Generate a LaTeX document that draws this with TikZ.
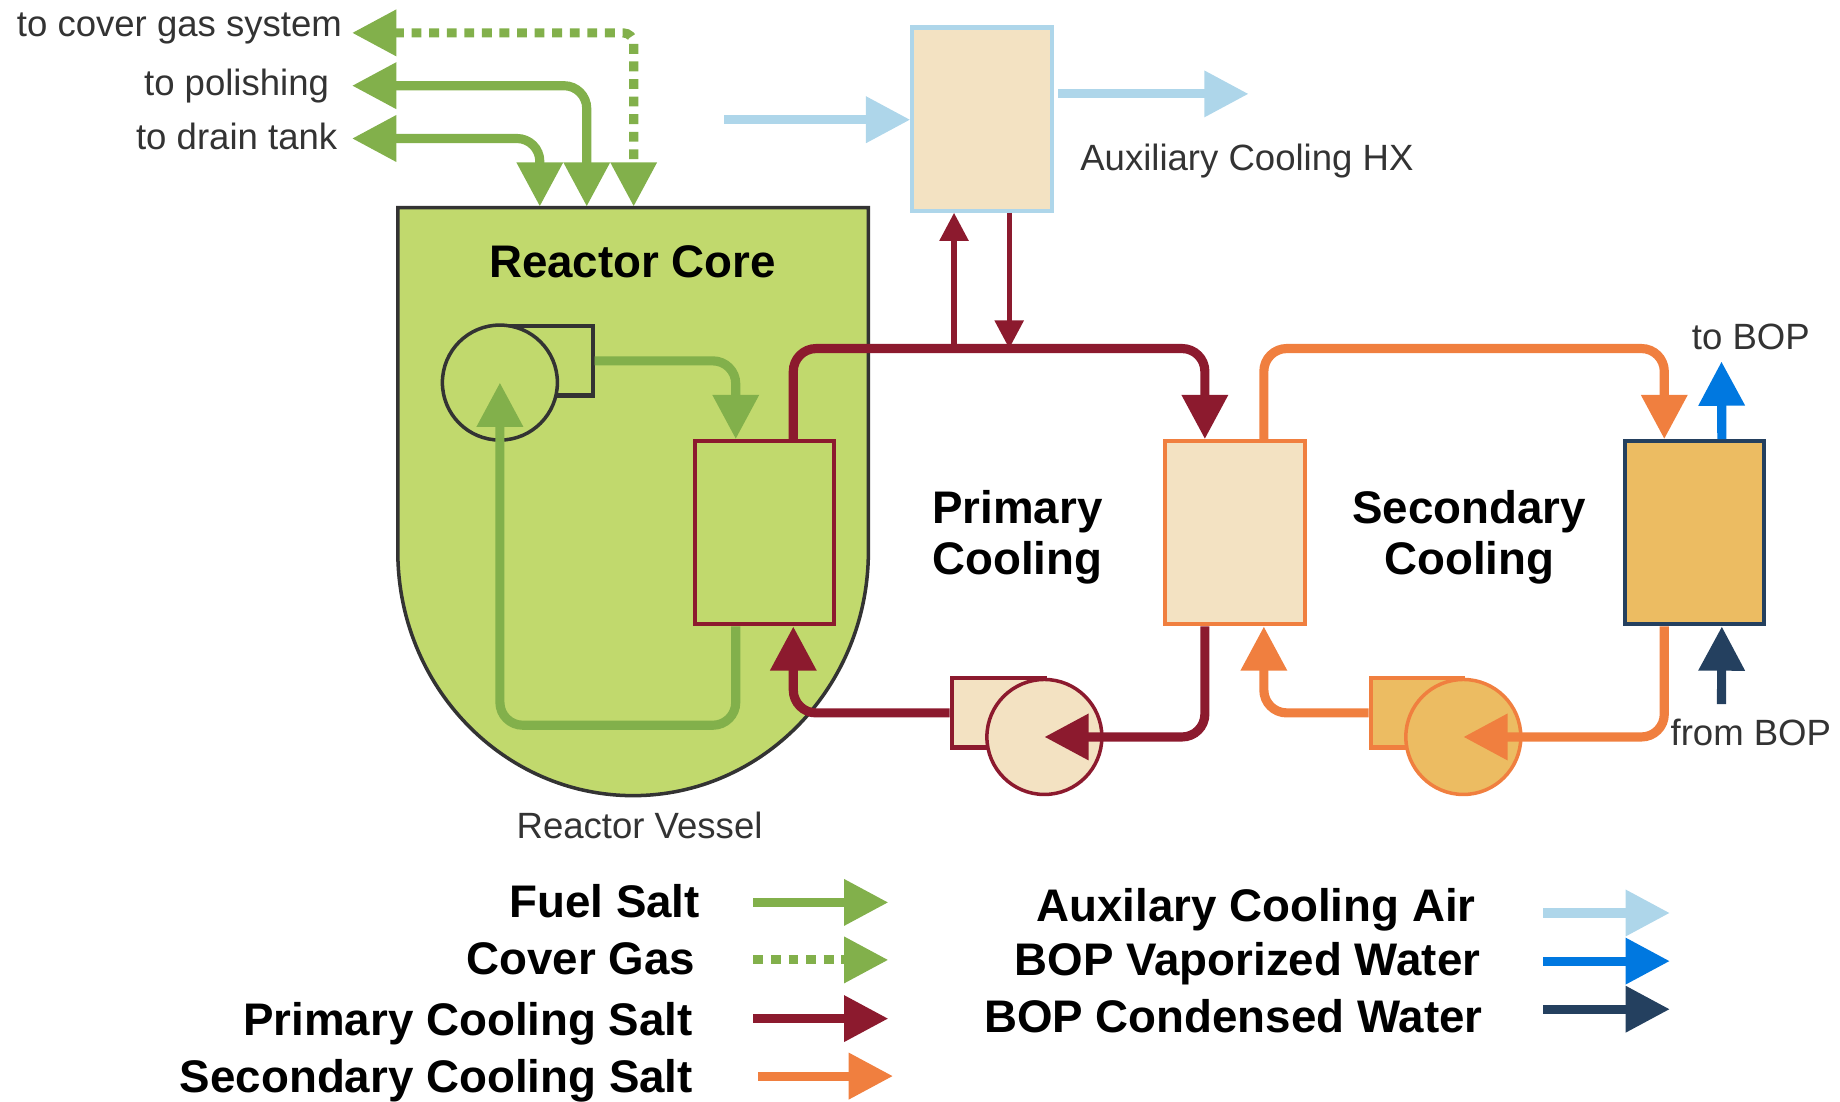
\documentclass[tikz,border=0pt]{standalone}
\usepackage{fontspec}
\setmainfont{Liberation Sans}
\usetikzlibrary{calc,arrows.meta}
\definecolor{vesselgreen}{HTML}{C1D96D}
\definecolor{fuelgreen}{HTML}{82B04B}
\definecolor{primred}{HTML}{8C1A2E}
\definecolor{secorange}{HTML}{F07F3F}
\definecolor{airblue}{HTML}{AED6EA}
\definecolor{vapblue}{HTML}{0078E0}
\definecolor{condnavy}{HTML}{24405F}
\definecolor{hxcream}{HTML}{F3E2C2}
\definecolor{hxgold}{HTML}{ECBC62}
\definecolor{darkline}{HTML}{333333}
\def\unitlen{0.011735cm}
\tikzset{
  hxbox/.style={draw,line width=1.2pt,minimum width=119*\unitlen,minimum height=156*\unitlen,inner sep=0pt},
  pumpbox/.style={draw,line width=1.2pt,minimum width=79*\unitlen,minimum height=59*\unitlen,inner sep=0pt},
  pumpwheel/.style={draw,circle,line width=1pt,minimum size=98*\unitlen,inner sep=0pt},
  flow/.style={line width=2.6pt,rounded corners=6.5pt,-{Triangle[length=12.6pt,width=12.6pt]}},
  flowboth/.style={line width=2.6pt,rounded corners=6.5pt,{Triangle[length=12.6pt,width=12.6pt]}-{Triangle[length=12.6pt,width=12.6pt]}},
  flowthin/.style={line width=1.5pt,-{Triangle[length=8pt,width=8pt]}},
  gasdash/.style={dash pattern=on 2.8pt off 2.2pt},
  lbl/.style={inner sep=0pt,text=darkline,font=\fontsize{10.4}{12.5}\selectfont},
  boldlbl/.style={inner sep=0pt,text=black,align=center,font=\fontsize{13}{14.6}\selectfont\bfseries},
}
\begin{document}
\begin{tikzpicture}[x=\unitlen,y=-\unitlen]
        \useasboundingbox (0,0) rectangle (1568,939);

        % Vessel
        \draw[line width=1pt,draw=darkline,fill=vesselgreen] (339,177) -- (740,177) -- (740,470)
            .. controls (740,585) and (650,678) .. (539.5,678)
            .. controls (429,678) and (339,585) .. (339,470) -- cycle;

        % Heat exchangers
        \node[hxbox,draw=airblue,fill=hxcream] (auxhx) at (837,101.5) {};
        \node[hxbox,draw=primred,fill=vesselgreen] (phx) at (651.5,454) {};
        \node[hxbox,draw=secorange,fill=hxcream] (ihx) at (1052.5,454) {};
        \node[hxbox,draw=condnavy,fill=hxgold] (shx) at (1444,454) {};

        % Pumps
        \node[pumpbox,draw=darkline,fill=vesselgreen] (fuelbox) at (465.5,307.5) {};
        \node[pumpwheel,draw=darkline,fill=vesselgreen] (fuelpump) at (426,326) {};
        \node[pumpbox,draw=primred,fill=hxcream] (primbox) at (850.5,607.5) {};
        \node[pumpwheel,draw=primred,fill=hxcream] (primpump) at (890,628) {};
        \node[pumpbox,draw=secorange,fill=hxgold] (secbox) at (1207.5,607.5) {};
        \node[pumpwheel,draw=secorange,fill=hxgold] (secpump) at (1247,628) {};

        \coordinate (phxA) at ($(phx.north west)!0.3!(phx.north east)$);
        \coordinate (phxB) at ($(phx.north west)!0.7!(phx.north east)$);
        \coordinate (phxC) at ($(phx.south west)!0.3!(phx.south east)$);
        \coordinate (phxD) at ($(phx.south west)!0.7!(phx.south east)$);
        \coordinate (ihxA) at ($(ihx.north west)!0.29!(ihx.north east)$);
        \coordinate (ihxB) at ($(ihx.north west)!0.7!(ihx.north east)$);
        \coordinate (ihxC) at ($(ihx.south west)!0.29!(ihx.south east)$);
        \coordinate (ihxD) at ($(ihx.south west)!0.7!(ihx.south east)$);
        \coordinate (shxA) at ($(shx.north west)!0.29!(shx.north east)$);
        \coordinate (shxB) at ($(shx.north west)!0.69!(shx.north east)$);
        \coordinate (shxC) at ($(shx.south west)!0.29!(shx.south east)$);
        \coordinate (shxD) at ($(shx.south west)!0.69!(shx.south east)$);
        \coordinate (topRun) at (0,297);
        \coordinate (lowRun) at (0,618);

        % Fuel salt
        \draw[flow,fuelgreen] (fuelbox.east) -- (phxA |- fuelbox.east) -- (phxA);
        \draw[flow,fuelgreen] (phxC) -- (phxC |- lowRun) -- (fuelpump.center |- lowRun) -- (fuelpump.center);

        % Off-gas and drains
        \coordinate (gasEnd) at (300,28);
        \coordinate (polEnd) at (300,73);
        \coordinate (drainEnd) at (300,118);
        \coordinate (gasIn) at (540,176);
        \coordinate (polIn) at (500,176);
        \coordinate (drainIn) at (460,176);
        \draw[flowboth,fuelgreen,gasdash,rounded corners=3pt] (gasEnd) -- (gasIn |- gasEnd) -- (gasIn);
        \draw[flowboth,fuelgreen] (polEnd) -- (polIn |- polEnd) -- (polIn);
        \draw[flowboth,fuelgreen] (drainEnd) -- (drainIn |- drainEnd) -- (drainIn);

        % Primary loop
        \draw[flow,primred] (phxB) -- (phxB |- topRun) -- (ihxA |- topRun) -- (ihxA);
        \draw[flow,primred] (ihxC) -- (ihxC |- primpump.center) -- (primpump.center);
        \draw[flow,primred] (primbox.west) -- (phxD |- primbox.west) -- (phxD);
        \coordinate (auxUp) at (813,297);
        \coordinate (auxDown) at (860,297);
        \draw[flowthin,primred] (auxUp) -- (auxUp |- auxhx.south);
        \draw[flowthin,primred] (auxDown |- auxhx.south) -- (auxDown);

        % Secondary loop
        \draw[flow,secorange] (ihxB) -- (ihxB |- topRun) -- (shxA |- topRun) -- (shxA);
        \draw[flow,secorange] (shxC) -- (shxC |- secpump.center) -- (secpump.center);
        \draw[flow,secorange] (secbox.west) -- (ihxD |- secbox.west) -- (ihxD);

        % BOP and air
        \coordinate (bopOut) at (1467,308);
        \coordinate (bopIn) at (1467,600);
        \coordinate (airIn) at (617,102);
        \coordinate (airOutA) at (902,80);
        \coordinate (airOutB) at (1064,80);
        \draw[flow,vapblue] (shxB) -- (bopOut);
        \draw[flow,condnavy] (bopIn) -- (shxD);
        \draw[flow,airblue] (airIn) -- (airIn -| auxhx.west);
        \draw[flow,airblue] (airOutA) -- (airOutB);

        % Labels
        \node[lbl,anchor=east] (toGas) at (292,24) {to cover gas system};
        \node[lbl,anchor=east] (toPol) at (281,73) {to polishing};
        \node[lbl,anchor=east] (toDrain) at (288,116) {to drain tank};
        \node[lbl,anchor=west] (auxName) at (920,137) {Auxiliary Cooling HX};
        \node[lbl] (vesselName) at (545,703) {Reactor Vessel};
        \node[lbl] (toBop) at (1492,287) {to BOP};
        \node[lbl] (fromBop) at (1492,624) {from BOP};
        \node[boldlbl] (coreName) at (539,223) {Reactor Core};
        \node[boldlbl] (primName) at (867,458) {Primary\\Cooling};
        \node[boldlbl] (secName) at (1252,458) {Secondary\\Cooling};

        % Legend
        \node[boldlbl,anchor=east] (legFuel) at (597,768) {Fuel Salt};
        \node[boldlbl,anchor=east] (legGas) at (593,817) {Cover Gas};
        \node[boldlbl,anchor=east] (legPrim) at (591,872) {Primary Cooling Salt};
        \node[boldlbl,anchor=east] (legSec) at (591,921) {Secondary Cooling Salt};
        \node[boldlbl,anchor=east] (legAir) at (1258,775) {Auxilary Cooling Air};
        \node[boldlbl,anchor=east] (legVap) at (1262,821) {BOP Vaporized Water};
        \node[boldlbl,anchor=east] (legCond) at (1264,866) {BOP Condensed Water};

        \coordinate (arrFuel) at (642,769);
        \coordinate (arrGas) at (642,818);
        \coordinate (arrPrim) at (642,868);
        \coordinate (arrSec) at (646,917);
        \coordinate (arrAir) at (1315,778);
        \coordinate (arrVap) at (1315,819);
        \coordinate (arrCond) at (1315,860);
        \draw[flow,fuelgreen] (arrFuel) -- ++(115,0);
        \draw[flow,fuelgreen,gasdash] (arrGas) -- ++(115,0);
        \draw[flow,primred] (arrPrim) -- ++(115,0);
        \draw[flow,secorange] (arrSec) -- ++(115,0);
        \draw[flow,airblue] (arrAir) -- ++(108,0);
        \draw[flow,vapblue] (arrVap) -- ++(108,0);
        \draw[flow,condnavy] (arrCond) -- ++(108,0);
\end{tikzpicture}
\end{document}
